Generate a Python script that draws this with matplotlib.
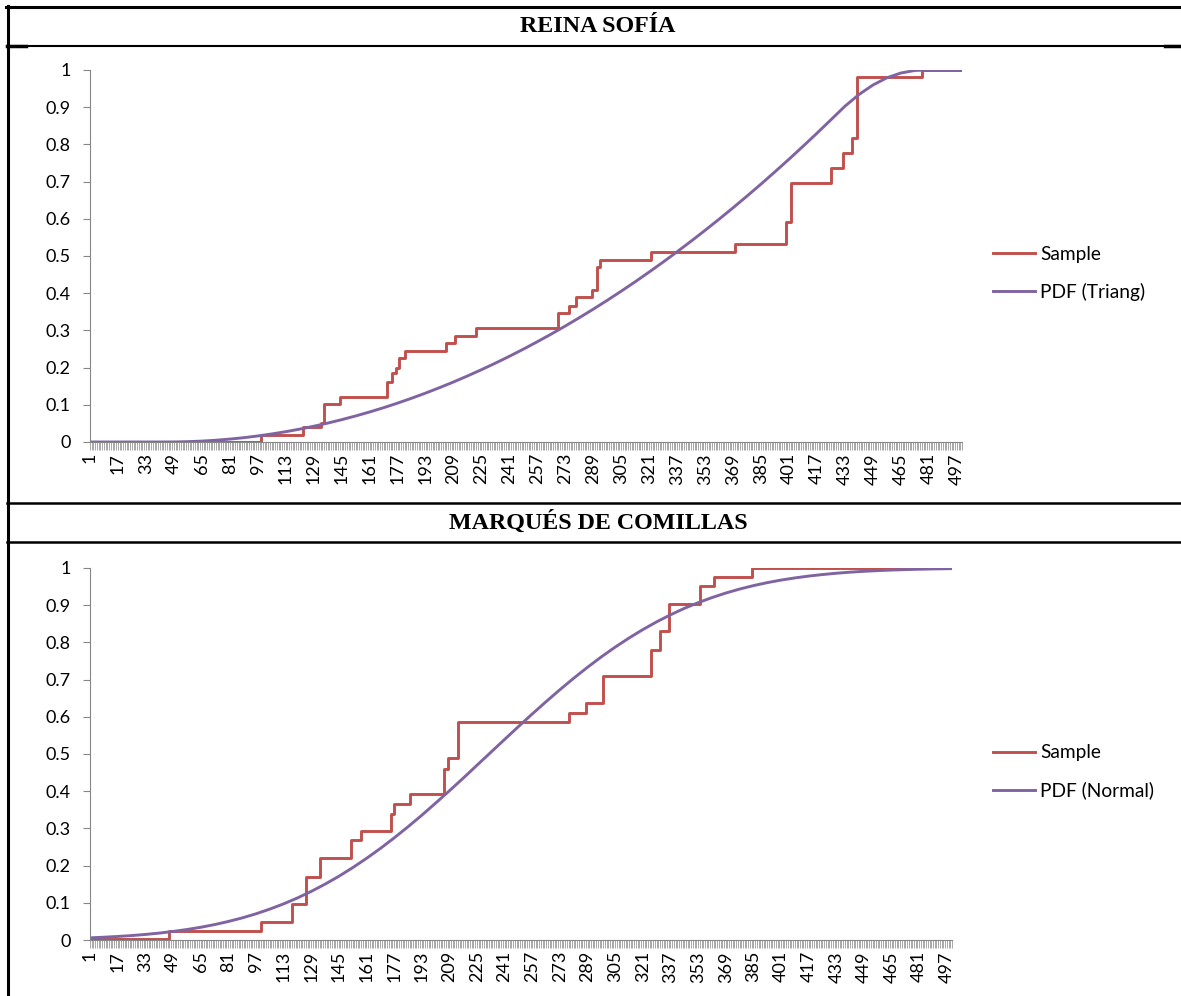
import matplotlib
matplotlib.use("Agg")
import matplotlib.pyplot as plt
from matplotlib.lines import Line2D

# Reina Sofía: sample steps (category where value changes, new value)
reina_step_x = [1, 99, 123, 133, 135, 144, 171, 174, 176, 178, 181, 205, 210, 222, 269,
                275, 279, 288, 291, 293, 322, 370, 399, 402, 425, 432, 437, 440, 477, 500]
reina_step_y = [0, 0.019, 0.04, 0.05, 0.102, 0.122, 0.162, 0.185, 0.2, 0.225, 0.245, 0.267,
                0.286, 0.307, 0.348, 0.366, 0.39, 0.409, 0.47, 0.489, 0.511, 0.532, 0.592,
                0.696, 0.737, 0.778, 0.818, 0.982, 1.0, 1.0]

# Marqués de Comillas: sample steps
marq_step_x = [1, 47, 100, 118, 126, 134, 152, 158, 175, 177, 186, 206, 208, 214, 278, 288,
               298, 326, 331, 336, 354, 362, 384, 500]
marq_step_y = [0.003, 0.024, 0.048, 0.097, 0.17, 0.22, 0.27, 0.293, 0.34, 0.366, 0.392, 0.46,
               0.49, 0.587, 0.611, 0.636, 0.71, 0.78, 0.83, 0.904, 0.952, 0.976, 1.0, 1.0]

# fitted curves, read every 8 categories
pdf_x = list(range(1, 498, 8)) + [500]
reina_pdf = [0, 0, 0, 0, 0, 0, 0.0001, 0.0009, 0.0024, 0.0047, 0.0078, 0.0116, 0.0162,
             0.0216, 0.0277, 0.0346, 0.0423, 0.0508, 0.06, 0.07, 0.0807, 0.0922, 0.1045,
             0.1176, 0.1314, 0.146, 0.1613, 0.1775, 0.1944, 0.212, 0.2304, 0.2496, 0.2696,
             0.2903, 0.3118, 0.3341, 0.3571, 0.3809, 0.4055, 0.4308, 0.457, 0.4838, 0.5115,
             0.5399, 0.5691, 0.599, 0.6297, 0.6612, 0.6934, 0.7265, 0.7602, 0.7948, 0.8301,
             0.8662, 0.9026, 0.934, 0.9595, 0.979, 0.9919, 0.9988, 1, 1, 1, 1]
marq_pdf = [0.0058, 0.0075, 0.0095, 0.0119, 0.0149, 0.0185, 0.0229, 0.0281, 0.0341, 0.0413,
            0.0497, 0.0593, 0.0703, 0.0829, 0.097, 0.1128, 0.1305, 0.1499, 0.1711, 0.1943,
            0.2192, 0.2458, 0.2742, 0.304, 0.3351, 0.3677, 0.4009, 0.4349, 0.4697, 0.5044,
            0.5391, 0.5737, 0.6076, 0.6406, 0.6728, 0.7037, 0.7331, 0.7611, 0.7873, 0.8117,
            0.8344, 0.8552, 0.8741, 0.8914, 0.9067, 0.9204, 0.9326, 0.9433, 0.9526, 0.9606,
            0.9675, 0.9733, 0.9783, 0.9824, 0.9859, 0.9888, 0.9911, 0.993, 0.9945, 0.9957,
            0.9967, 0.9975, 0.9981, 0.9983]

x_labels = list(range(1, 498, 16))
y_ticks = [0, 0.1, 0.2, 0.3, 0.4, 0.5, 0.6, 0.7, 0.8, 0.9, 1]
y_labels = ["0", "0.1", "0.2", "0.3", "0.4", "0.5", "0.6", "0.7", "0.8", "0.9", "1"]

RED = "#C0504D"
PURPLE = "#8064A2"
GREY = "#868686"
SANS = "Lato"

W, H = 1181, 996
fig = plt.figure(figsize=(W / 100, H / 100), dpi=100)


def box(x0, y0, x1, y1):
    # pixel box -> figure fraction
    return [x0 / W, 1 - y1 / H, (x1 - x0) / W, (y1 - y0) / H]


def hline(x0, x1, y, lw):
    fig.add_artist(Line2D([x0 / W, x1 / W], [1 - y / H, 1 - y / H], color="black", lw=lw))


def draw_panel(ax, step_x, step_y, pdf_y, pdf_label, legend_y):
    ax.step(step_x, step_y, where="post", color=RED, lw=2.1, label="Sample")
    ax.plot(pdf_x, pdf_y, color=PURPLE, lw=2.1, label=pdf_label)
    ax.set_xlim(1, 500)
    ax.set_ylim(0, 1)
    for side in ["top", "right"]:
        ax.spines[side].set_visible(False)
    for side in ["left", "bottom"]:
        ax.spines[side].set_color(GREY)
        ax.spines[side].set_linewidth(0.8)
    ax.set_xticks(x_labels, [str(v) for v in x_labels], rotation=90)
    ax.set_xticks(range(1, 501), minor=True)
    ax.tick_params(axis="x", which="both", length=6, width=0.5, color=GREY, pad=2)
    ax.set_yticks(y_ticks, y_labels)
    ax.tick_params(axis="y", length=5, width=0.8, color=GREY, pad=9)
    for lab in ax.get_xticklabels() + ax.get_yticklabels():
        lab.set_fontfamily(SANS)
        lab.set_fontsize(13)
    ax.legend(loc="center left", bbox_to_anchor=(993 / W, 1 - legend_y / H),
              bbox_transform=fig.transFigure, frameon=False, handlelength=2.2,
              handletextpad=0.26, labelspacing=1.05, borderpad=0, borderaxespad=0,
              prop={"family": SANS, "size": 13.8})


ax1 = fig.add_axes(box(90, 70, 962, 442))
draw_panel(ax1, reina_step_x, reina_step_y, reina_pdf, "PDF (Triang)", 273.5)

ax2 = fig.add_axes(box(90, 568, 952, 940))
draw_panel(ax2, marq_step_x, marq_step_y, marq_pdf, "PDF (Normal)", 772)

# table frame around the two charts
hline(6, 1181, 7, 2.2)
hline(7, 1181, 46, 1.5)
hline(7, 26, 46.5, 2.5)
hline(1165, 1181, 46.5, 2.5)
hline(7, 1181, 503, 1.8)
hline(7, 1181, 542, 1.8)
fig.add_artist(Line2D([7.5 / W, 7.5 / W], [1 - 6 / H, 0], color="black", lw=2.2))

fig.text(598 / W, 1 - 27 / H, "REINA SOFÍA", ha="center", va="center",
         fontfamily="Liberation Serif", fontweight="bold", fontsize=17.3)
fig.text(598 / W, 1 - 522 / H, "MARQUÉS DE COMILLAS", ha="center", va="center",
         fontfamily="Liberation Serif", fontweight="bold", fontsize=17.3)

fig.savefig("out.png", dpi=100)
